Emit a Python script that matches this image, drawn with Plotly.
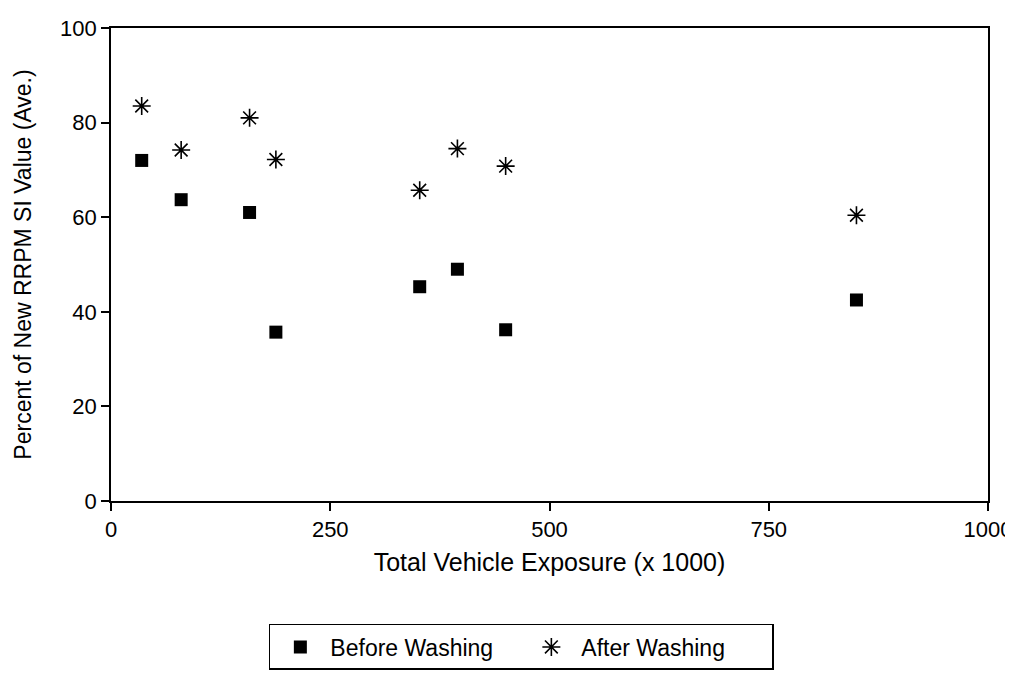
import plotly.graph_objects as go

# exposure (x 1000) for each vehicle group
exposure = [35, 80, 158, 188, 352, 395, 450, 850]
before_washing = [72.0, 63.7, 61.0, 35.7, 45.3, 49.0, 36.2, 42.5]
after_washing = [83.5, 74.2, 81.0, 72.2, 65.7, 74.5, 70.8, 60.4]

x_ticks = [0, 250, 500, 750, 1000]
y_ticks = [0, 20, 40, 60, 80, 100]

FONT = "Liberation Sans, Arial, Helvetica, sans-serif"

fig = go.Figure()

fig.add_trace(go.Scatter(
    x=exposure, y=before_washing,
    mode="markers",
    name="Before Washing",
    marker=dict(symbol="square", size=13, color="black"),
))
fig.add_trace(go.Scatter(
    x=exposure, y=after_washing,
    mode="markers",
    name="After Washing",
    marker=dict(symbol="asterisk-open", size=15, color="black",
                line=dict(width=1.6, color="black")),
))

axis_style = dict(
    showgrid=False,
    zeroline=False,
    showline=True,
    linecolor="black",
    linewidth=1.8,
    mirror=True,
    ticks="outside",
    ticklen=8,
    tickwidth=1.5,
    tickcolor="black",
    tickfont=dict(family=FONT, size=22, color="black"),
)

fig.update_xaxes(
    range=[0, 1000], tickvals=x_ticks,
    title=dict(text="Total Vehicle Exposure (x 1000)",
               font=dict(family=FONT, size=25, color="black"), standoff=12),
    **axis_style,
)
fig.update_yaxes(
    range=[0, 100], tickvals=y_ticks,
    title=dict(text="Percent of New RRPM SI Value (Ave.)",
               font=dict(family=FONT, size=23, color="black"), standoff=22),
    **axis_style,
)

fig.update_layout(
    width=1013, height=675,
    margin=dict(l=103, r=33, t=20, b=182, autoexpand=False),
    paper_bgcolor="white",
    plot_bgcolor="white",
    font=dict(family=FONT, color="black"),
    showlegend=True,
    legend=dict(
        orientation="h",
        x=0.18, xanchor="left",
        y=-0.26, yanchor="top",
        bordercolor="black", borderwidth=1.5,
        bgcolor="white",
        font=dict(family=FONT, size=23, color="black"),
        entrywidth=186,
        itemwidth=50,
    ),
)

fig.write_html("out.html")
